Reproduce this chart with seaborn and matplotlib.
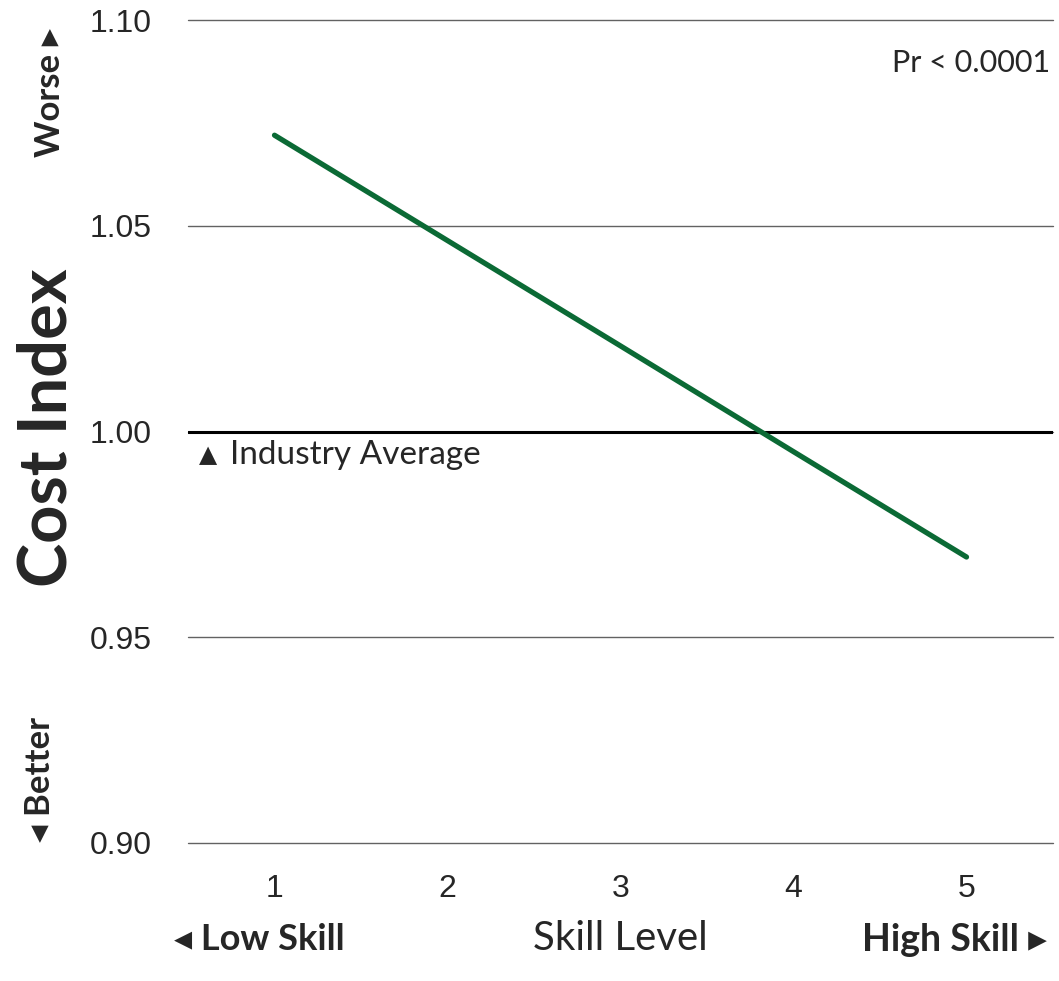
import matplotlib
matplotlib.use("Agg")
import matplotlib.pyplot as plt
import seaborn as sns
import pandas as pd

# Cost index by skill level
skill_levels = [1, 2, 3, 4, 5]
cost_index = [1.072, 1.0464, 1.0208, 0.9951, 0.9695]
y_ticks = [0.90, 0.95, 1.00, 1.05, 1.10]
y_tick_labels = ["0.90", "0.95", "1.00", "1.05", "1.10"]
industry_average = 1.00

df = pd.DataFrame({"skill": skill_levels, "cost": cost_index})

sns.set_style("white")
W, H = 1059, 981
fig = plt.figure(figsize=(W / 100, H / 100), dpi=100)
ax = fig.add_axes([188 / W, 1 - 843 / H, (1053 - 188) / W, (843 - 20) / H])

TXT = ["Lato", "DejaVu Sans"]
TICK = "Liberation Sans"

sns.lineplot(data=df, x="skill", y="cost", ax=ax, color="#0b6a35",
             linewidth=3.8, solid_capstyle="round", zorder=4)

ax.set_xlim(0.5, 5.5)
ax.set_ylim(0.90, 1.10)
ax.set_yticks(y_ticks)
ax.set_yticklabels(y_tick_labels)
ax.set_xticks(skill_levels)
ax.set_xticklabels([str(s) for s in skill_levels])
ax.grid(axis="y", color="#626262", linewidth=1.0, zorder=1)
ax.grid(axis="x", visible=False)
for gl in ax.get_ygridlines():
    gl.set_clip_on(False)
ax.axhline(industry_average, color="black", linewidth=2.2, zorder=3)
for s in ax.spines.values():
    s.set_visible(False)
ax.tick_params(axis="both", length=0, labelsize=23)
ax.tick_params(axis="y", pad=26)
ax.tick_params(axis="x", pad=22)
for lab in ax.get_xticklabels() + ax.get_yticklabels():
    lab.set_family(TICK)
ax.set_xlabel("")
ax.set_ylabel("")


def px(x, y):
    return x / W, 1 - y / H


fig.text(*px(48, 428), "Cost Index", rotation=90, ha="center", va="center",
         fontsize=48, fontweight="bold", family=TXT)
fig.text(*px(50, 92), "Worse \u25b8", rotation=90, ha="center", va="center",
         fontsize=25, fontweight="bold", family=TXT)
fig.text(*px(40, 780), "\u25c2 Better", rotation=90, ha="center", va="center",
         fontsize=25, fontweight="bold", family=TXT)
fig.text(*px(174, 940), "\u25c2 Low Skill", ha="left", va="center",
         fontsize=26, fontweight="bold", family=TXT)
fig.text(*px(1047, 940), "High Skill \u25b8", ha="right", va="center",
         fontsize=27, fontweight="bold", family=TXT)
fig.text(*px(620, 938), "Skill Level", ha="center", va="center",
         fontsize=29, family=TXT)
fig.text(*px(1050, 63), "Pr < 0.0001", ha="right", va="center",
         fontsize=22, family=TXT)
fig.text(*px(199, 456), "\u25b2", ha="left", va="center",
         fontsize=17, family=TXT)
fig.text(*px(230, 455), "Industry Average", ha="left", va="center",
         fontsize=24, family=TXT)

fig.savefig("out.png", dpi=100)
